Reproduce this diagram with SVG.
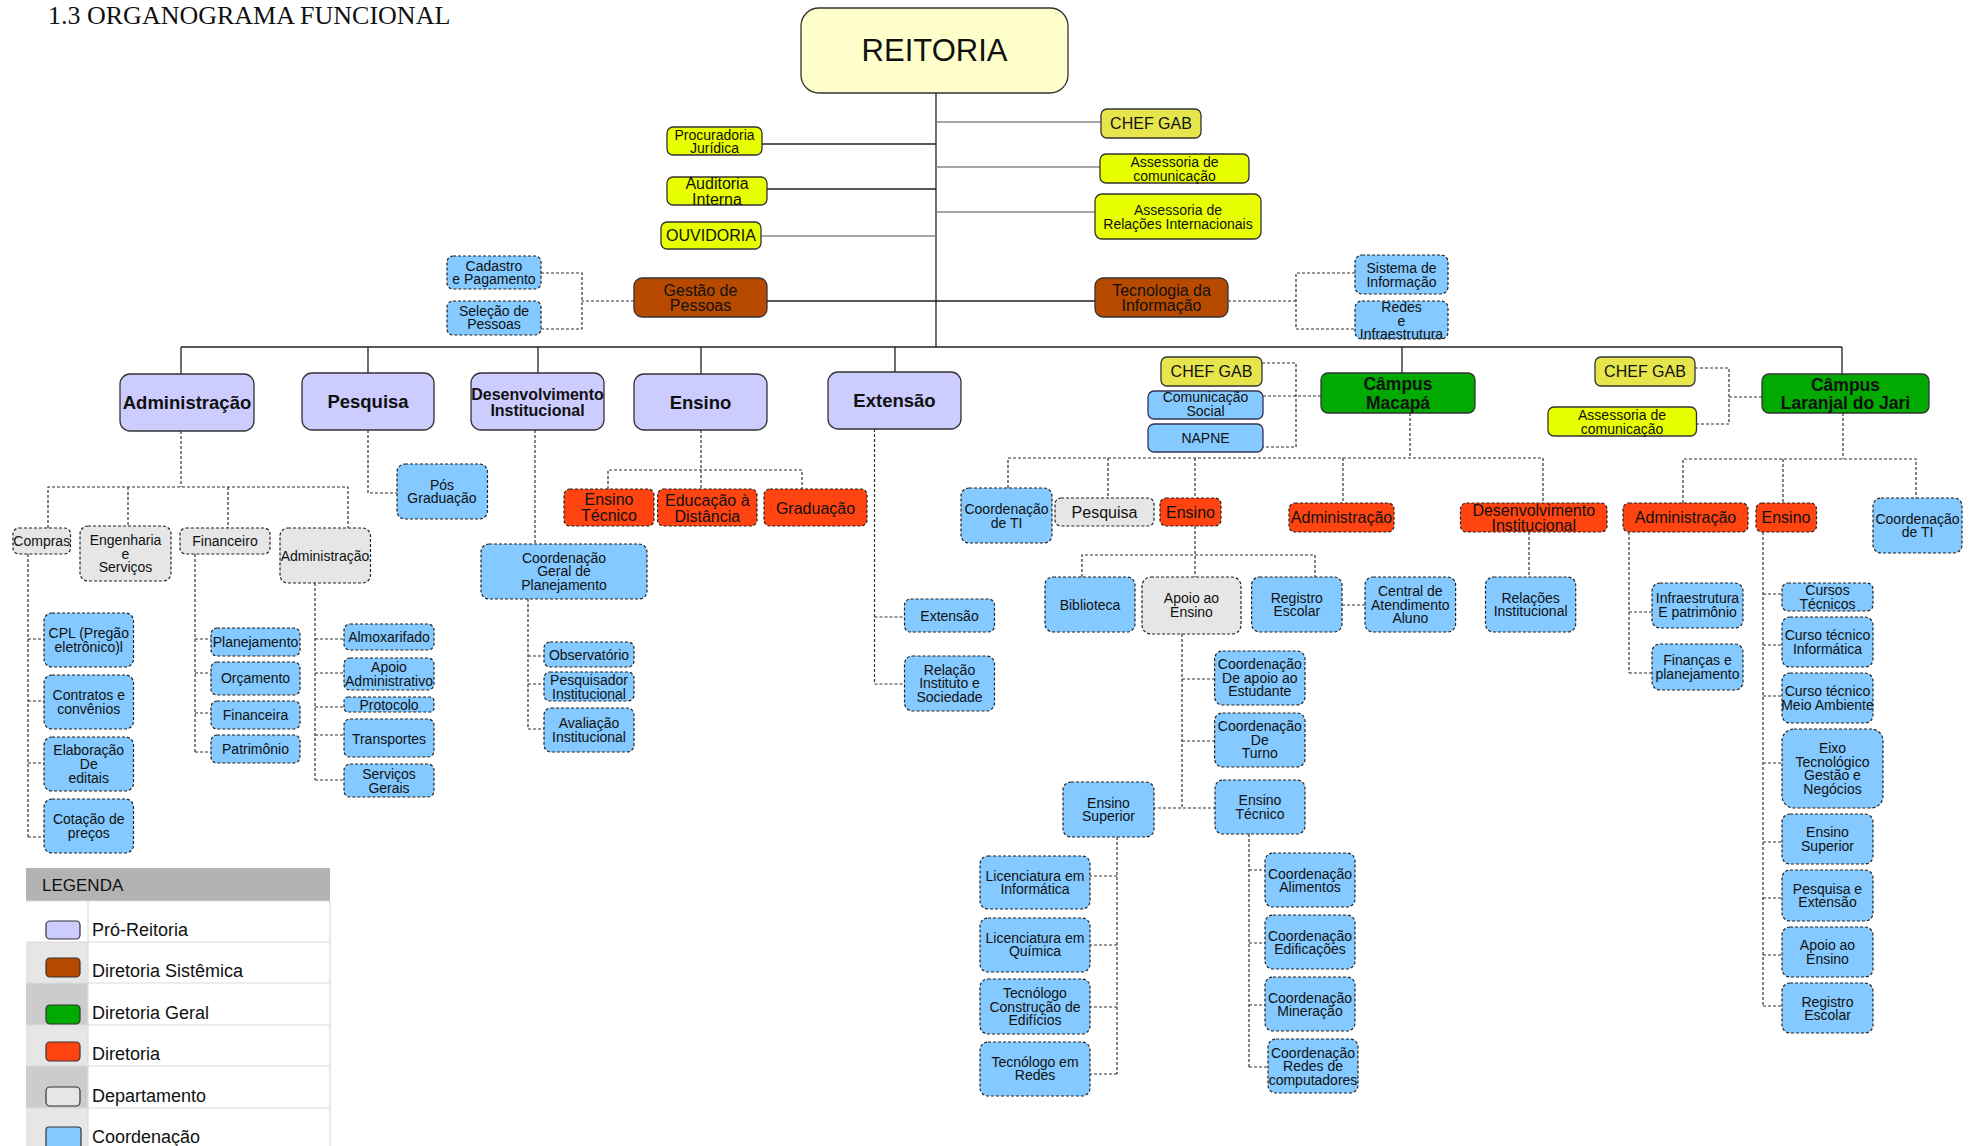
<svg xmlns="http://www.w3.org/2000/svg" width="1975" height="1146" viewBox="0 0 1975 1146">
<style>
text{font-family:"Liberation Sans",Arial,sans-serif;text-anchor:middle;fill:#111}
.f14{font-size:14px}.f16{font-size:16px}.b18{font-size:18.5px;font-weight:bold}.b16{font-size:16px;font-weight:bold}.b17{font-size:17.5px;font-weight:bold}
.sol{stroke:#333;stroke-width:1.3}
.das{stroke:#222;stroke-width:1.2;stroke-dasharray:3 2}
.rei{fill:#ffffcc}.yel{fill:#e8ff00}.chf{fill:#e6e64c}.brn{fill:#b84a00}.pro{fill:#ccccff}.grn{fill:#00aa00}.dir{fill:#ff4411}.dep{fill:#e6e6e6}.crd{fill:#84c9ff}
.ln{fill:none;stroke:#222;stroke-width:1.3}
.lg{fill:none;stroke:#888;stroke-width:1.6}
.dl{fill:none;stroke:#333;stroke-width:1.2;stroke-dasharray:3 2}
.leg{font-size:18px;text-anchor:start}
</style>
<rect width="1975" height="1146" fill="#fff"/>
<text x="48" y="24" style="font-family:'Liberation Serif','Times New Roman',serif;font-size:26px;text-anchor:start">1.3 ORGANOGRAMA FUNCIONAL</text>

<g id="connectors">
<path class="ln" d="M936,93V347M181,347H1842M181,347V374M368,347V373M538,347V373M701,347V374M895,347V372M1402,347V373M1842,347V374"/>
<path class="ln" d="M762,144H936M767,189H936M767,301H1095"/>
<path class="lg" d="M936,122H1101M936,167H1100M936,212H1095M761,236H936"/>
<path class="dl" d="M634,301H582M541,273H582V329H541"/>
<path class="dl" d="M1228,301H1296M1355,273H1296V329H1355"/>
<path class="dl" d="M1262,363H1296V447H1263M1263,396H1321"/>
<path class="dl" d="M1695,368H1729V424H1696M1729,397H1762"/>
<path class="dl" d="M181,431V487M48,528V487H348V528M128,487V526M228,487V528"/>
<path class="dl" d="M28,554V837M28,639H44M28,701H44M28,763H44M28,837H44"/>
<path class="dl" d="M195,554V752M195,639H211M195,673H211M195,713H211M195,752H211"/>
<path class="dl" d="M315,583V780M315,639H344M315,673H344M315,707H344M315,735H344M315,780H344"/>
<path class="dl" d="M368,430V493H397"/>
<path class="dl" d="M535,430V544M528,599V729M528,656H544M528,684H544M528,729H544"/>
<path class="dl" d="M701,430V489M608,489V470H802V489"/>
<path class="dl" d="M874.5,429V684M874.5,617H904.5M874.5,684H904.5"/>
<path class="dl" d="M1410,413V458M1008,488V458H1543V503M1108,458V498M1195,458V498M1343,458V503"/>
<path class="dl" d="M1195,526V577M1082,577V555H1315V577M1342,605H1365M1529,532V577"/>
<path class="dl" d="M1182,634V808M1182,679H1214.6M1182,741H1214.6M1153,808H1215"/>
<path class="dl" d="M1117,837V1074M1117,876H1090M1117,945H1090M1117,1007H1090M1117,1074H1090"/>
<path class="dl" d="M1249,834V1067M1249,870H1265M1249,943H1265M1249,1005H1265M1249,1067H1268"/>
<path class="dl" d="M1843,413V459M1683,503V459H1916V498M1783,459V503"/>
<path class="dl" d="M1629,532V673M1629,612H1652M1629,673H1652"/>
<path class="dl" d="M1763,532V1006M1763,594H1782M1763,645H1782M1763,696H1782M1763,763H1782M1763,842H1782M1763,898H1782M1763,955H1782M1763,1006H1782"/>
</g>

<g id="reitoria"><rect class="rei sol" x="801" y="8" width="267" height="85" rx="18"/><text x="934.5" y="61" style="font-size:31px">REITORIA</text></g>
<g id="procuradoria"><rect class="yel sol" x="667" y="127" width="95" height="28" rx="6"/><text class="f14" x="714.5" y="139.5">Procuradoria<tspan x="714.5" dy="13.5">Jurídica</tspan></text></g>
<g id="auditoria"><rect class="yel sol" x="667" y="177" width="100" height="28" rx="6"/><text class="f16" x="717" y="189">Auditoria<tspan x="717" dy="16">Interna</tspan></text></g>
<g id="ouvidoria"><rect class="yel sol" x="661" y="222" width="100" height="27" rx="6"/><text class="f16" x="711" y="241">OUVIDORIA</text></g>
<g id="chefgab"><rect class="chf sol" x="1101" y="109" width="100" height="29" rx="6"/><text class="f16" x="1151" y="129">CHEF GAB</text></g>
<g id="asscom"><rect class="yel sol" x="1100" y="154" width="149" height="29" rx="6"/><text class="f14" x="1174.5" y="167">Assessoria de<tspan x="1174.5" dy="13.5">comunicação</tspan></text></g>
<g id="assrel"><rect class="yel sol" x="1095" y="194" width="166" height="45" rx="7"/><text class="f14" x="1178" y="215">Assessoria de<tspan x="1178" dy="13.5">Relações Internacionais</tspan></text></g>
<g id="gestao"><rect class="brn sol" x="634" y="278" width="133" height="39" rx="8"/><text class="f16" x="700.5" y="295.6">Gestão de<tspan x="700.5" dy="15">Pessoas</tspan></text></g>
<g id="tecinfo"><rect class="brn sol" x="1095" y="278" width="133" height="39" rx="8"/><text class="f16" x="1161.5" y="295.6">Tecnologia da<tspan x="1161.5" dy="15">Informação</tspan></text></g>
<g id="cadastro"><rect class="crd das" x="447" y="256" width="94" height="33" rx="6"/><text class="f14" x="494" y="271">Cadastro<tspan x="494" dy="13">e Pagamento</tspan></text></g>
<g id="selecao"><rect class="crd das" x="447" y="301" width="94" height="34" rx="6"/><text class="f14" x="494" y="316">Seleção de<tspan x="494" dy="13">Pessoas</tspan></text></g>
<g id="sistema"><rect class="crd das" x="1355" y="255" width="93" height="39" rx="7"/><text class="f14" x="1401.5" y="273">Sistema de<tspan x="1401.5" dy="14">Informação</tspan></text></g>
<g id="redes"><rect class="crd das" x="1355" y="301" width="93" height="38" rx="7"/><text class="f14" x="1401.5" y="312">Redes<tspan x="1401.5" dy="13.5">e</tspan><tspan x="1401.5" dy="13.5">Infraestrutura</tspan></text></g>

<g id="pr-administracao"><rect class="pro sol" x="120" y="374" width="134" height="57" rx="10"/><text class="b18" x="187" y="409">Administração</text></g>
<g id="pr-pesquisa"><rect class="pro sol" x="302" y="373" width="132" height="57" rx="10"/><text class="b18" x="368" y="408">Pesquisa</text></g>
<g id="pr-desenvolvimento"><rect class="pro sol" x="471" y="373" width="133" height="57" rx="10"/><text class="b16" x="537.5" y="399.5">Desenvolvimento<tspan x="537.5" dy="16">Institucional</tspan></text></g>
<g id="pr-ensino"><rect class="pro sol" x="634" y="374" width="133" height="56" rx="10"/><text class="b18" x="700.5" y="408.5">Ensino</text></g>
<g id="pr-extensao"><rect class="pro sol" x="828" y="372" width="133" height="57" rx="10"/><text class="b18" x="894.5" y="407">Extensão</text></g>

<g id="compras"><rect class="dep das" x="13" y="528" width="57.5" height="26" rx="6"/><text class="f14" x="41.75" y="546">Compras</text></g>
<g id="engenharia"><rect class="dep das" x="80" y="526" width="91" height="55" rx="8"/><text class="f14" x="125.5" y="545">Engenharia<tspan x="125.5" dy="14">e</tspan><tspan x="125.5" dy="13">Serviços</tspan></text></g>
<g id="financeiro"><rect class="dep das" x="180" y="528" width="90" height="26" rx="6"/><text class="f14" x="225" y="546">Financeiro</text></g>
<g id="adm-dept"><rect class="dep das" x="280" y="528" width="90.5" height="55" rx="8"/><text class="f14" x="325" y="560.5">Administração</text></g>

<g id="cpl"><rect class="crd das" x="44" y="613" width="89.5" height="54" rx="8"/><text class="f14" x="88.75" y="638">CPL (Pregão<tspan x="88.75" dy="14">eletrônico)l</tspan></text></g>
<g id="contratos"><rect class="crd das" x="44" y="675" width="89.5" height="54" rx="8"/><text class="f14" x="88.75" y="700">Contratos e<tspan x="88.75" dy="14">convênios</tspan></text></g>
<g id="elaboracao"><rect class="crd das" x="44" y="737" width="89.5" height="54" rx="8"/><text class="f14" x="88.75" y="755">Elaboração<tspan x="88.75" dy="14">De</tspan><tspan x="88.75" dy="14">editais</tspan></text></g>
<g id="cotacao"><rect class="crd das" x="44" y="799" width="89.5" height="54" rx="8"/><text class="f14" x="88.75" y="824">Cotação de<tspan x="88.75" dy="14">preços</tspan></text></g>

<g id="planejamento"><rect class="crd das" x="211" y="628" width="89" height="28" rx="6"/><text class="f14" x="255.5" y="647">Planejamento</text></g>
<g id="orcamento"><rect class="crd das" x="211" y="662" width="89" height="33" rx="6"/><text class="f14" x="255.5" y="683">Orçamento</text></g>
<g id="financeira"><rect class="crd das" x="211" y="701" width="89" height="28" rx="6"/><text class="f14" x="255.5" y="720">Financeira</text></g>
<g id="patrimonio"><rect class="crd das" x="211" y="735" width="89" height="28" rx="6"/><text class="f14" x="255.5" y="754">Patrimônio</text></g>

<g id="almoxarifado"><rect class="crd das" x="344" y="624" width="90" height="26" rx="6"/><text class="f14" x="389" y="642">Almoxarifado</text></g>
<g id="apoio-adm"><rect class="crd das" x="344" y="658" width="90" height="32" rx="6"/><text class="f14" x="389" y="672">Apoio<tspan x="389" dy="14">Administrativo</tspan></text></g>
<g id="protocolo"><rect class="crd das" x="344" y="697" width="90" height="15" rx="4"/><text class="f14" x="389" y="710">Protocolo</text></g>
<g id="transportes"><rect class="crd das" x="344" y="719" width="90" height="38" rx="6"/><text class="f14" x="389" y="744">Transportes</text></g>
<g id="servicos-gerais"><rect class="crd das" x="344" y="764" width="90" height="33" rx="6"/><text class="f14" x="389" y="779">Serviços<tspan x="389" dy="14">Gerais</tspan></text></g>

<g id="pos-graduacao"><rect class="crd das" x="397" y="464" width="90.5" height="55" rx="8"/><text class="f14" x="442" y="490">Pós<tspan x="442" dy="13">Graduação</tspan></text></g>
<g id="cgp"><rect class="crd das" x="481" y="544" width="166" height="55" rx="8"/><text class="f14" x="564" y="563">Coordenação<tspan x="564" dy="13">Geral de</tspan><tspan x="564" dy="14">Planejamento</tspan></text></g>
<g id="observatorio"><rect class="crd das" x="544" y="642" width="90" height="25" rx="6"/><text class="f14" x="589" y="660">Observatório</text></g>
<g id="pesq-inst"><rect class="crd das" x="544" y="672" width="90" height="29" rx="6"/><text class="f14" x="589" y="685">Pesquisador<tspan x="589" dy="14">Institucional</tspan></text></g>
<g id="aval-inst"><rect class="crd das" x="544" y="708" width="90" height="44" rx="7"/><text class="f14" x="589" y="728">Avaliação<tspan x="589" dy="14">Institucional</tspan></text></g>

<g id="ensino-tecnico"><rect class="dir das" x="564" y="489" width="90" height="37" rx="6"/><text class="f16" x="609" y="504.6">Ensino<tspan x="609" dy="16">Técnico</tspan></text></g>
<g id="ead"><rect class="dir das" x="657.6" y="489" width="99.4" height="37" rx="6"/><text class="f16" x="707.3" y="505.6">Educação à<tspan x="707.3" dy="16">Distância</tspan></text></g>
<g id="graduacao"><rect class="dir das" x="764" y="489" width="103" height="37" rx="6"/><text class="f16" x="815.5" y="513.6">Graduação</text></g>

<g id="extensao-coord"><rect class="crd das" x="904.5" y="599" width="90" height="33" rx="6"/><text class="f14" x="949.5" y="621">Extensão</text></g>
<g id="relacao-instituto"><rect class="crd das" x="904.5" y="656" width="90" height="55" rx="8"/><text class="f14" x="949.5" y="675">Relação<tspan x="949.5" dy="13">Instituto e</tspan><tspan x="949.5" dy="14">Sociedade</tspan></text></g>

<g id="chefgab-macapa"><rect class="chf sol" x="1161" y="357" width="101" height="29" rx="6"/><text class="f16" x="1211.5" y="377">CHEF GAB</text></g>
<g id="comunicacao-social"><rect class="crd" x="1148" y="391" width="115" height="28" rx="6" stroke="#335" stroke-width="1.3"/><text class="f14" x="1205.5" y="402">Comunicação<tspan x="1205.5" dy="14">Social</tspan></text></g>
<g id="napne"><rect class="crd" x="1148" y="424" width="115" height="28" rx="6" stroke="#335" stroke-width="1.3"/><text class="f14" x="1205.5" y="443">NAPNE</text></g>
<g id="campus-macapa"><rect class="grn sol" x="1321" y="373" width="154" height="40" rx="7"/><text class="b17" x="1398" y="390">Câmpus<tspan x="1398" dy="19">Macapá</tspan></text></g>
<g id="coordti-macapa"><rect class="crd das" x="961" y="488" width="91" height="55" rx="8"/><text class="f14" x="1006.5" y="514">Coordenação<tspan x="1006.5" dy="14">de TI</tspan></text></g>
<g id="pesquisa-macapa"><rect class="dep das" x="1055" y="498" width="99" height="28" rx="6"/><text class="f16" x="1104.5" y="517.6">Pesquisa</text></g>
<g id="ensino-macapa"><rect class="dir das" x="1160" y="498" width="61" height="28" rx="6"/><text class="f16" x="1190.5" y="517.6">Ensino</text></g>
<g id="adm-macapa"><rect class="dir das" x="1289" y="503" width="105" height="29" rx="6"/><text class="f16" x="1341.5" y="522.6">Administração</text></g>
<g id="des-macapa"><rect class="dir das" x="1460.5" y="503" width="146.5" height="29" rx="6"/><text class="f16" x="1533.75" y="515.6">Desenvolvimento<tspan x="1533.75" dy="15">Institucional</tspan></text></g>
<g id="biblioteca"><rect class="crd das" x="1045" y="577" width="90" height="55" rx="8"/><text class="f14" x="1090" y="609.7">Biblioteca</text></g>
<g id="apoio-ensino-macapa"><rect class="dep das" x="1142" y="577" width="99" height="57" rx="9"/><text class="f14" x="1191.5" y="603">Apoio ao<tspan x="1191.5" dy="14">Ensino</tspan></text></g>
<g id="registro-macapa"><rect class="crd das" x="1251.6" y="577" width="90.4" height="55" rx="8"/><text class="f14" x="1296.8" y="603">Registro<tspan x="1296.8" dy="13">Escolar</tspan></text></g>
<g id="central-atendimento"><rect class="crd das" x="1365" y="577" width="90.6" height="55" rx="8"/><text class="f14" x="1410.3" y="596">Central de<tspan x="1410.3" dy="14">Atendimento</tspan><tspan x="1410.3" dy="13">Aluno</tspan></text></g>
<g id="relacoes-inst"><rect class="crd das" x="1485.5" y="577" width="90.2" height="55" rx="8"/><text class="f14" x="1530.6" y="603">Relações<tspan x="1530.6" dy="13">Institucional</tspan></text></g>
<g id="coord-apoio-estudante"><rect class="crd das" x="1214.6" y="651" width="90.4" height="54" rx="8"/><text class="f14" x="1259.8" y="669">Coordenação<tspan x="1259.8" dy="14">De apoio ao</tspan><tspan x="1259.8" dy="13">Estudante</tspan></text></g>
<g id="coord-turno"><rect class="crd das" x="1214.6" y="713" width="90.4" height="54" rx="8"/><text class="f14" x="1259.8" y="731">Coordenação<tspan x="1259.8" dy="14">De</tspan><tspan x="1259.8" dy="13">Turno</tspan></text></g>
<g id="ensino-tecnico-macapa"><rect class="crd das" x="1215" y="780" width="90" height="54" rx="8"/><text class="f14" x="1260" y="805">Ensino<tspan x="1260" dy="14">Técnico</tspan></text></g>
<g id="ensino-superior-macapa"><rect class="crd das" x="1063" y="782" width="91" height="55" rx="8"/><text class="f14" x="1108.5" y="808">Ensino<tspan x="1108.5" dy="13">Superior</tspan></text></g>
<g id="lic-informatica"><rect class="crd das" x="980" y="856" width="110" height="53" rx="8"/><text class="f14" x="1035" y="881">Licenciatura em<tspan x="1035" dy="13">Informática</tspan></text></g>
<g id="lic-quimica"><rect class="crd das" x="980" y="918" width="110" height="54" rx="8"/><text class="f14" x="1035" y="943">Licenciatura em<tspan x="1035" dy="13">Química</tspan></text></g>
<g id="tec-construcao"><rect class="crd das" x="980" y="979" width="110" height="55" rx="8"/><text class="f14" x="1035" y="998">Tecnólogo<tspan x="1035" dy="14">Construção de</tspan><tspan x="1035" dy="13">Edifícios</tspan></text></g>
<g id="tec-redes"><rect class="crd das" x="980" y="1042" width="110" height="54" rx="8"/><text class="f14" x="1035" y="1067">Tecnólogo em<tspan x="1035" dy="13">Redes</tspan></text></g>
<g id="coord-alimentos"><rect class="crd das" x="1265" y="853" width="90" height="54" rx="8"/><text class="f14" x="1310" y="879">Coordenação<tspan x="1310" dy="13">Alimentos</tspan></text></g>
<g id="coord-edificacoes"><rect class="crd das" x="1265" y="915" width="90" height="54" rx="8"/><text class="f14" x="1310" y="941">Coordenação<tspan x="1310" dy="13">Edificações</tspan></text></g>
<g id="coord-mineracao"><rect class="crd das" x="1265" y="977" width="90" height="54" rx="8"/><text class="f14" x="1310" y="1003">Coordenação<tspan x="1310" dy="13">Mineração</tspan></text></g>
<g id="coord-redes"><rect class="crd das" x="1268" y="1039" width="90" height="54" rx="8"/><text class="f14" x="1313" y="1058">Coordenação<tspan x="1313" dy="13">Redes de</tspan><tspan x="1313" dy="14">computadores</tspan></text></g>

<g id="chefgab-laranjal"><rect class="chf sol" x="1595" y="357" width="100" height="29" rx="6"/><text class="f16" x="1645" y="377">CHEF GAB</text></g>
<g id="asscom-laranjal"><rect class="yel sol" x="1548" y="407" width="148.5" height="29" rx="6"/><text class="f14" x="1622" y="420">Assessoria de<tspan x="1622" dy="14">comunicação</tspan></text></g>
<g id="campus-laranjal"><rect class="grn sol" x="1762" y="374" width="167" height="39" rx="7"/><text class="b17" x="1845.5" y="391">Câmpus<tspan x="1845.5" dy="18">Laranjal do Jari</tspan></text></g>
<g id="adm-laranjal"><rect class="dir das" x="1623" y="503" width="125" height="29" rx="6"/><text class="f16" x="1685.5" y="522.6">Administração</text></g>
<g id="ensino-laranjal"><rect class="dir das" x="1756" y="503" width="60.5" height="29" rx="6"/><text class="f16" x="1786" y="522.6">Ensino</text></g>
<g id="coordti-laranjal"><rect class="crd das" x="1873" y="498" width="89" height="55" rx="8"/><text class="f14" x="1917.5" y="524">Coordenação<tspan x="1917.5" dy="13">de TI</tspan></text></g>
<g id="infra-patrimonio"><rect class="crd das" x="1652" y="583" width="91" height="45" rx="8"/><text class="f14" x="1697.5" y="603">Infraestrutura<tspan x="1697.5" dy="14">E patrimônio</tspan></text></g>
<g id="financas"><rect class="crd das" x="1652" y="644" width="91" height="46" rx="8"/><text class="f14" x="1697.5" y="665">Finanças e<tspan x="1697.5" dy="14">planejamento</tspan></text></g>
<g id="cursos-tecnicos"><rect class="crd das" x="1782" y="583" width="91" height="28" rx="6"/><text class="f14" x="1827.5" y="595">Cursos<tspan x="1827.5" dy="14">Técnicos</tspan></text></g>
<g id="ct-informatica"><rect class="crd das" x="1782" y="617" width="91" height="50" rx="8"/><text class="f14" x="1827.5" y="640">Curso técnico<tspan x="1827.5" dy="14">Informática</tspan></text></g>
<g id="ct-meio"><rect class="crd das" x="1782" y="673" width="91" height="50" rx="8"/><text class="f14" x="1827.5" y="696">Curso técnico<tspan x="1827.5" dy="14">Meio Ambiente</tspan></text></g>
<g id="eixo"><rect class="crd das" x="1782" y="729" width="101" height="79" rx="12"/><text class="f14" x="1832.5" y="753">Eixo<tspan x="1832.5" dy="14">Tecnológico</tspan><tspan x="1832.5" dy="13">Gestão e</tspan><tspan x="1832.5" dy="14">Negócios</tspan></text></g>
<g id="ensino-superior-laranjal"><rect class="crd das" x="1782" y="814" width="91" height="50" rx="8"/><text class="f14" x="1827.5" y="837">Ensino<tspan x="1827.5" dy="14">Superior</tspan></text></g>
<g id="pesquisa-extensao"><rect class="crd das" x="1782" y="870" width="91" height="51" rx="8"/><text class="f14" x="1827.5" y="894">Pesquisa e<tspan x="1827.5" dy="13">Extensão</tspan></text></g>
<g id="apoio-ensino-laranjal"><rect class="crd das" x="1782" y="927" width="91" height="50" rx="8"/><text class="f14" x="1827.5" y="950">Apoio ao<tspan x="1827.5" dy="14">Ensino</tspan></text></g>
<g id="registro-laranjal"><rect class="crd das" x="1782" y="983" width="91" height="50" rx="8"/><text class="f14" x="1827.5" y="1007">Registro<tspan x="1827.5" dy="13">Escolar</tspan></text></g>

<g id="legenda">
<rect x="26" y="868" width="304" height="33" fill="#b3b3b3"/>
<text x="42" y="891" style="font-size:17px;text-anchor:start">LEGENDA</text>
<rect x="26" y="901" width="62" height="41" fill="#fff"/>
<rect x="26" y="942" width="62" height="41" fill="#e6e6e6"/>
<rect x="26" y="983" width="62" height="42" fill="#cccccc"/>
<rect x="26" y="1025" width="62" height="41" fill="#e6e6e6"/>
<rect x="26" y="1066" width="62" height="42" fill="#cccccc"/>
<rect x="26" y="1108" width="62" height="40" fill="#e6e6e6"/>
<path d="M26,901H330M26,942H330M26,983H330M26,1025H330M26,1066H330M26,1108H330M88,901V1146M330,901V1146" fill="none" stroke="#dcdcdc" stroke-width="1.2"/>
<rect class="pro" x="46" y="921" width="34" height="18" rx="4" stroke="#333" stroke-width="1.2"/>
<rect class="brn" x="46" y="958" width="34" height="19" rx="4" stroke="#333" stroke-width="1.2"/>
<rect class="grn" x="46" y="1005" width="34" height="19" rx="4" stroke="#333" stroke-width="1.2"/>
<rect class="dir" x="46" y="1042" width="34" height="19" rx="4" stroke="#333" stroke-width="1.2"/>
<rect class="dep" x="46" y="1087" width="34" height="19" rx="4" stroke="#333" stroke-width="1.2"/>
<rect class="crd" x="46" y="1127" width="35" height="25" rx="3" stroke="#333" stroke-width="1.2"/>
<text class="leg" x="92" y="936">Pró-Reitoria</text>
<text class="leg" x="92" y="977">Diretoria Sistêmica</text>
<text class="leg" x="92" y="1019">Diretoria Geral</text>
<text class="leg" x="92" y="1060">Diretoria</text>
<text class="leg" x="92" y="1102">Departamento</text>
<text class="leg" x="92" y="1143">Coordenação</text>
</g>
</svg>
